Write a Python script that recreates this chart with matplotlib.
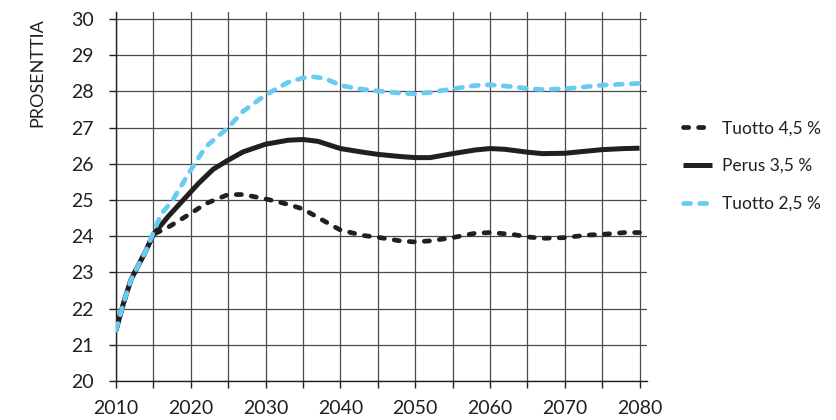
import matplotlib
matplotlib.use("Agg")
import matplotlib.pyplot as plt
from matplotlib.ticker import MultipleLocator

plt.rcParams["font.family"] = ["Lato", "DejaVu Sans"]

# --- data ---
years_base = [2010, 2011, 2012, 2013, 2014, 2015, 2017, 2019, 2021, 2023, 2025, 2027, 2030,
              2033, 2035, 2037, 2040, 2043, 2045, 2048, 2050, 2052, 2055, 2058, 2060,
              2062, 2065, 2067, 2070, 2073, 2075, 2078, 2080]
perus = [21.4, 22.15, 22.8, 23.2, 23.6, 24.05, 24.55, 25.0, 25.45, 25.85, 26.1, 26.33, 26.54,
         26.65, 26.67, 26.62, 26.42, 26.32, 26.26, 26.2, 26.17, 26.17, 26.28, 26.38, 26.42,
         26.4, 26.32, 26.28, 26.29, 26.35, 26.39, 26.42, 26.43]

years_high = [2010, 2011, 2012, 2013, 2014, 2015, 2017, 2020, 2022, 2025, 2027, 2030,
              2033, 2035, 2038, 2040, 2043, 2045, 2048, 2050, 2052, 2055, 2058, 2060,
              2063, 2065, 2067, 2070, 2073, 2075, 2078, 2080]
tuotto_45 = [21.4, 22.15, 22.8, 23.2, 23.6, 24.05, 24.25, 24.63, 24.9, 25.15, 25.15, 25.03,
             24.88, 24.75, 24.4, 24.17, 24.02, 23.97, 23.87, 23.84, 23.87, 23.96, 24.08, 24.1,
             24.05, 23.98, 23.94, 23.96, 24.03, 24.05, 24.1, 24.1]

years_low = [2010, 2011, 2012, 2013, 2014, 2015, 2016, 2017.6, 2020, 2022, 2025, 2027, 2030,
             2033, 2035, 2036.5, 2038, 2040, 2042, 2045, 2048, 2050, 2052, 2055, 2058, 2060,
             2063, 2065, 2067, 2070, 2073, 2075, 2078, 2080]
tuotto_25 = [21.4, 22.15, 22.8, 23.2, 23.6, 24.1, 24.6, 25.0, 25.83, 26.47, 27.0, 27.45, 27.9,
             28.25, 28.37, 28.4, 28.35, 28.17, 28.08, 28.01, 27.95, 27.93, 27.97, 28.07, 28.16, 28.18,
             28.13, 28.08, 28.05, 28.07, 28.13, 28.17, 28.2, 28.22]

labels = ["Tuotto 4,5 %", "Perus 3,5 %", "Tuotto 2,5 %"]

dark = "#231f20"
blue = "#66ccf2"

fig = plt.figure(figsize=(8.37, 4.20), dpi=100)
ax = fig.add_axes([116 / 837, 1 - 381 / 420, 531 / 837, (381 - 11.7) / 420])

ax.plot(years_base, perus, color=dark, lw=3.6, solid_capstyle="butt",
        label=labels[1], zorder=3)
ax.plot(years_high, tuotto_45, color=dark, lw=3.4, dashes=(1.1, 2.1),
        dash_capstyle="round", label=labels[0], zorder=4)
ax.plot(years_low, tuotto_25, color=blue, lw=3.4, dashes=(1.5, 1.9),
        dash_capstyle="round", label=labels[2], zorder=5)

ax.set_xlim(2010, 2081)
ax.set_ylim(20, 30.2)
ax.xaxis.set_major_locator(MultipleLocator(10))
ax.xaxis.set_minor_locator(MultipleLocator(5))
ax.set_yticks(range(20, 31))

ax.grid(True, which="both", color="#4a4a4a", lw=0.9)
ax.set_axisbelow(True)
for s in ["top", "right"]:
    ax.spines[s].set_visible(False)
for s in ["left", "bottom"]:
    ax.spines[s].set_color(dark)
    ax.spines[s].set_linewidth(1.0)

ax.tick_params(axis="both", which="both", direction="out", length=5, width=1.0,
               color=dark, labelcolor=dark, labelsize=14)
ax.tick_params(axis="y", pad=11)
ax.tick_params(axis="x", pad=9)

fig.text(37 / 837, 1 - 73 / 420, "PROSENTTIA", rotation=90, ha="center", va="center",
         fontsize=13, color=dark)

handles, labs = ax.get_legend_handles_labels()
order = [1, 0, 2]
leg = ax.legend([handles[i] for i in order], [labs[i] for i in order],
                loc="center left", bbox_to_anchor=(667 / 837, 1 - 166 / 420),
                bbox_transform=fig.transFigure, frameon=False, fontsize=12.5,
                handlelength=1.7, handletextpad=0.55, labelspacing=1.25)
for t in leg.get_texts():
    t.set_color(dark)

fig.savefig("out.png", dpi=100)
